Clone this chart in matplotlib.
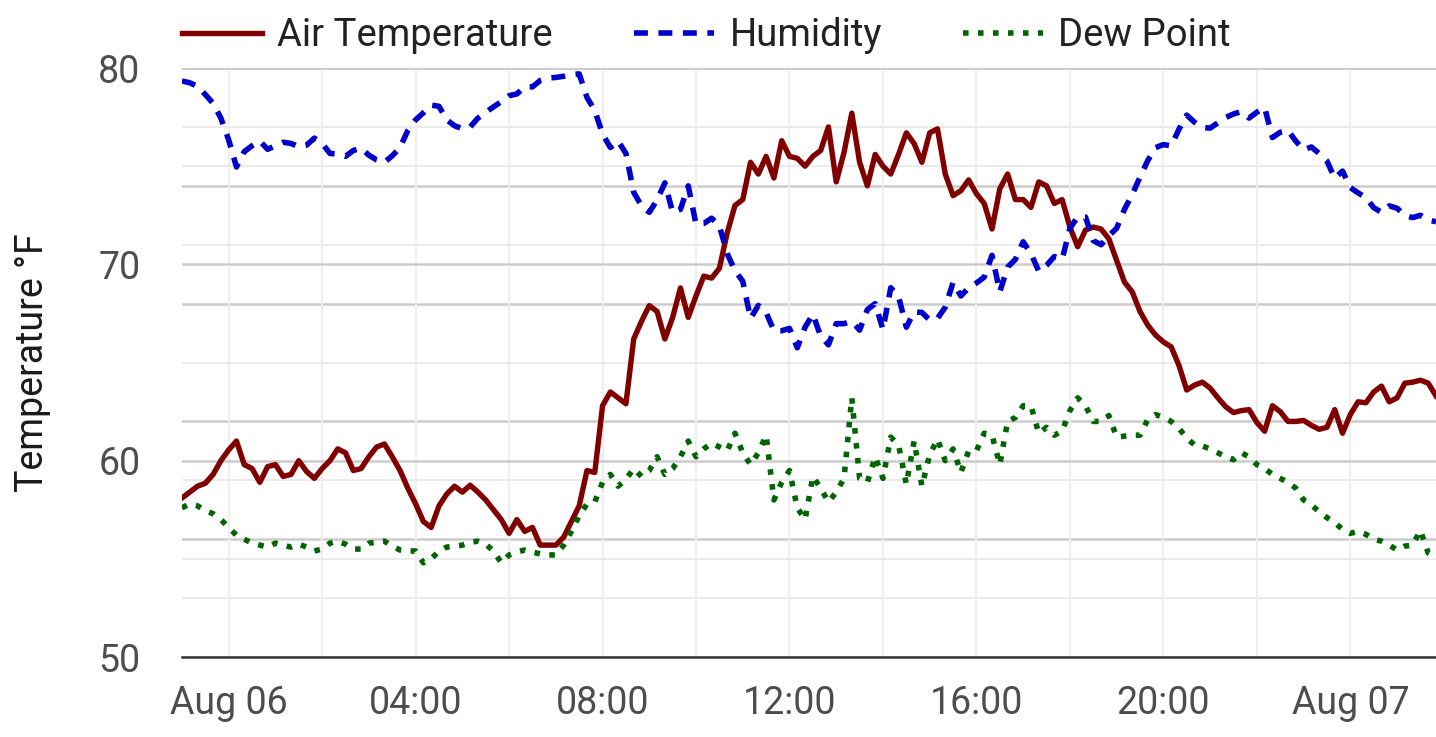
import numpy as np
import pandas as pd
import matplotlib
matplotlib.use('Agg')
import matplotlib.pyplot as plt
import matplotlib.dates as mdates
from matplotlib.ticker import MultipleLocator, FuncFormatter

plt.rcParams['font.family'] = ['Roboto', 'DejaVu Sans']

# 10-minute readings, starting Aug 05 23:00
air_temp = [
    58.1, 58.4, 58.7, 58.85, 59.3, 60.0, 60.55, 61.0, 59.8, 59.6,
    58.9, 59.7, 59.8, 59.2, 59.3, 60.0, 59.45, 59.1, 59.6, 60.0,
    60.6, 60.4, 59.5, 59.6, 60.2, 60.7, 60.85, 60.2, 59.5, 58.6,
    57.8, 56.9, 56.6, 57.7, 58.3, 58.7, 58.4, 58.75, 58.4, 58.0,
    57.5,
    57.0, 56.3, 57.0, 56.4, 56.6, 55.7, 55.7, 55.7, 56.1, 56.9,
    57.7, 59.5, 59.4, 62.8, 63.5, 63.2, 62.9, 66.2, 67.1, 67.9,
    67.6, 66.2, 67.3, 68.8, 67.3, 68.4, 69.4, 69.3, 69.8, 71.6,
    73.0, 73.3, 75.2, 74.6, 75.5, 74.4, 76.3, 75.5, 75.4, 75.0,
    75.5, 75.8,
    77.0, 74.2, 75.7, 77.7, 75.2, 74.0, 75.6, 75.0, 74.6, 75.6,
    76.7, 76.15, 75.2, 76.7, 76.9, 74.6, 73.5, 73.75, 74.3, 73.6,
    73.1, 71.8, 73.85, 74.6, 73.3, 73.3, 72.9, 74.2, 74.0, 73.1,
    73.3, 71.9, 70.9, 71.75, 71.9, 71.8, 71.3,
    70.2, 69.1, 68.6, 67.6, 66.9, 66.4, 66.05, 65.8, 64.85, 63.6,
    63.85, 64.0, 63.7, 63.2, 62.75, 62.45, 62.55, 62.6, 61.95, 61.5,
    62.8, 62.5, 62.0, 62.0, 62.05, 61.8, 61.6, 61.7, 62.6, 61.4,
    62.35, 63.0, 62.95, 63.5, 63.8, 63.0, 63.2, 63.95, 64.0, 64.1,
    63.95, 63.3,
]

humidity = [
    97.8, 97.5, 96.9, 95.5, 94.0, 91.5, 87.8, 83.2, 85.8, 86.8,
    87.6, 86.2, 86.8, 87.4, 87.2, 86.6, 86.9, 88.1, 87.2, 85.5,
    85.4, 85.0, 86.0, 86.4, 85.2, 84.4, 84.0, 85.1, 86.5, 89.4,
    91.2, 92.4, 93.7, 93.5, 91.2, 90.2, 89.7, 90.0, 91.5, 92.5,
    93.4,
    94.3, 95.3, 95.6, 96.8, 96.8, 97.9, 98.3, 98.4, 98.6, 98.9,
    99.0, 95.0, 92.8, 88.8, 86.5, 87.6, 85.5, 78.9, 76.6, 75.5,
    77.6, 80.5, 75.5, 76.0, 80.0, 73.5, 73.6, 74.5, 73.2, 68.5,
    65.6, 63.8, 57.5, 59.7, 58.5, 55.4, 55.4, 55.8, 52.5, 56.0,
    58.2, 54.5,
    53.0, 56.6, 56.6, 57.0, 55.5, 59.0, 60.0, 55.6, 62.7, 61.2,
    56.0, 58.6, 58.5, 57.2, 57.5, 59.4, 63.6, 61.3, 62.7, 63.5,
    64.5, 68.2, 62.0, 66.2, 67.5, 70.5, 68.5, 65.5, 66.5, 68.0,
    67.5, 72.8, 74.7, 74.7, 70.7, 70.0, 71.5,
    72.8, 76.0, 78.5, 81.5, 84.3, 86.5, 87.0, 86.8, 89.6, 92.0,
    90.8, 89.9, 89.8, 90.7, 91.6, 92.2, 92.6, 91.5, 92.5, 93.3,
    88.2, 89.1, 89.4, 87.6, 86.1, 86.6, 85.5, 84.2, 81.3, 82.5,
    79.7, 78.8, 78.0, 76.3, 75.5, 76.6, 76.2, 75.0, 74.6, 75.0,
    74.2, 73.9,
]

dew_point = [
    57.6, 57.8, 57.7, 57.45, 57.3, 57.0, 56.6, 56.2, 56.0, 55.8,
    55.7, 55.6, 55.8, 55.7, 55.6, 55.75, 55.6, 55.4, 55.5, 55.8,
    55.9, 55.75, 55.5, 55.5, 55.8, 55.85, 55.9, 55.65, 55.45, 55.4,
    55.4, 54.8, 55.0, 55.4, 55.6, 55.65, 55.7, 55.85, 55.9, 55.75,
    55.4,
    54.8, 55.2, 55.35, 55.45, 55.35, 55.25, 55.2, 55.2, 55.7, 56.4,
    57.2, 57.8, 57.9, 58.9, 59.3, 58.7, 59.05, 59.6, 59.2, 59.5,
    60.2, 59.3, 59.6, 60.2, 61.0, 60.2, 60.6, 60.9, 60.7, 60.5,
    61.4, 60.4, 59.8, 60.4, 61.3, 58.0, 58.9, 59.5, 57.6, 57.0,
    59.2, 58.6,
    57.9, 58.4, 59.1, 63.2, 59.1, 58.9, 60.2, 59.1, 61.2, 60.8,
    58.8, 61.0, 58.7, 60.3, 61.1, 60.0, 60.6, 59.4, 60.5, 60.5,
    61.4, 61.3, 59.8, 62.0, 62.2, 62.8, 62.8, 61.4, 61.7, 61.3,
    61.5, 62.55, 63.2, 62.8, 62.0, 62.0, 62.3,
    61.2, 61.25, 61.3, 61.3, 62.1, 62.35, 62.2, 62.0, 61.65, 61.15,
    60.8, 60.75, 60.6, 60.4, 60.2, 60.05, 60.4, 60.2, 59.8, 59.6,
    59.3, 59.1, 58.9, 58.6, 58.0, 57.75, 57.4, 57.1, 56.85, 56.5,
    56.3, 56.4, 56.25, 56.0, 55.9, 55.7, 55.45, 55.65, 55.7, 56.45,
    55.3, 55.1,
]

times = pd.date_range('2024-08-05 23:00', periods=len(air_temp), freq='10min')

fig = plt.figure(figsize=(14.36, 7.37), dpi=100)
ax = fig.add_axes([0.1267, 0.1085, 0.8733, 0.7992])
ax2 = ax.twinx()  # humidity scale (0-100 %), only its grid is shown
ax.set_zorder(ax2.get_zorder() + 1)
ax.patch.set_visible(False)

ax.set_ylim(50, 80)
ax2.set_ylim(0, 100)
ax.set_xlim(times[0], times[-1])

l1, = ax.plot(times, air_temp, color='#800000', lw=3.9, solid_joinstyle='round',
              label='Air Temperature')
l2, = ax.plot(times, humidity, color='mediumblue', lw=4.0, dashes=(2.5, 1.9),
              transform=ax2.transData, label='Humidity')
l3, = ax.plot(times, dew_point, color='#006400', lw=4.0, dashes=(1.0, 1.7),
              label='Dew Point')

# grids
ax.yaxis.set_major_locator(MultipleLocator(10))
ax.yaxis.set_minor_locator(MultipleLocator(5))
ax2.yaxis.set_major_locator(MultipleLocator(20))
ax2.yaxis.set_minor_locator(MultipleLocator(10))
ax.xaxis.set_major_locator(mdates.HourLocator(byhour=range(0, 24, 4)))
ax.xaxis.set_minor_locator(mdates.HourLocator(byhour=range(0, 24, 2)))

def fmt_time(x, pos):
    d = mdates.num2date(x)
    return d.strftime('%b %d') if d.hour == 0 else d.strftime('%H:%M')

ax.xaxis.set_major_formatter(FuncFormatter(fmt_time))

ax.grid(axis='x', which='both', color='#eeeeee', lw=1.4)
ax.grid(axis='y', which='major', color='#cccccc', lw=1.8)
ax.grid(axis='y', which='minor', color='#ebebeb', lw=1.4)
ax2.grid(axis='y', which='major', color='#cccccc', lw=1.8)
ax2.grid(axis='y', which='minor', color='#ebebeb', lw=1.4)

ax.tick_params(which='both', length=0)
ax.tick_params(axis='y', labelsize=27, labelcolor='#4d4d4d', pad=30)
ax.tick_params(axis='x', labelsize=27, labelcolor='#4d4d4d', pad=20)
ax2.tick_params(which='both', length=0, labelright=False)

for s in ['top', 'right', 'left']:
    ax.spines[s].set_visible(False)
ax.spines['bottom'].set_color('#333333')
ax.spines['bottom'].set_linewidth(1.8)
for s in ax2.spines.values():
    s.set_visible(False)

ax.set_ylabel('Temperature °F', fontsize=27, color='#1a1a1a', labelpad=34)

ax.legend(handles=[l1, l2, l3], loc='lower left', bbox_to_anchor=(0, 1.024),
          ncol=3, frameon=False, fontsize=27.5, handlelength=2.1,
          handletextpad=0.4, columnspacing=2.12, borderaxespad=0, borderpad=0,
          labelcolor='#222222')

fig.savefig('out.png', dpi=100, facecolor='white')
